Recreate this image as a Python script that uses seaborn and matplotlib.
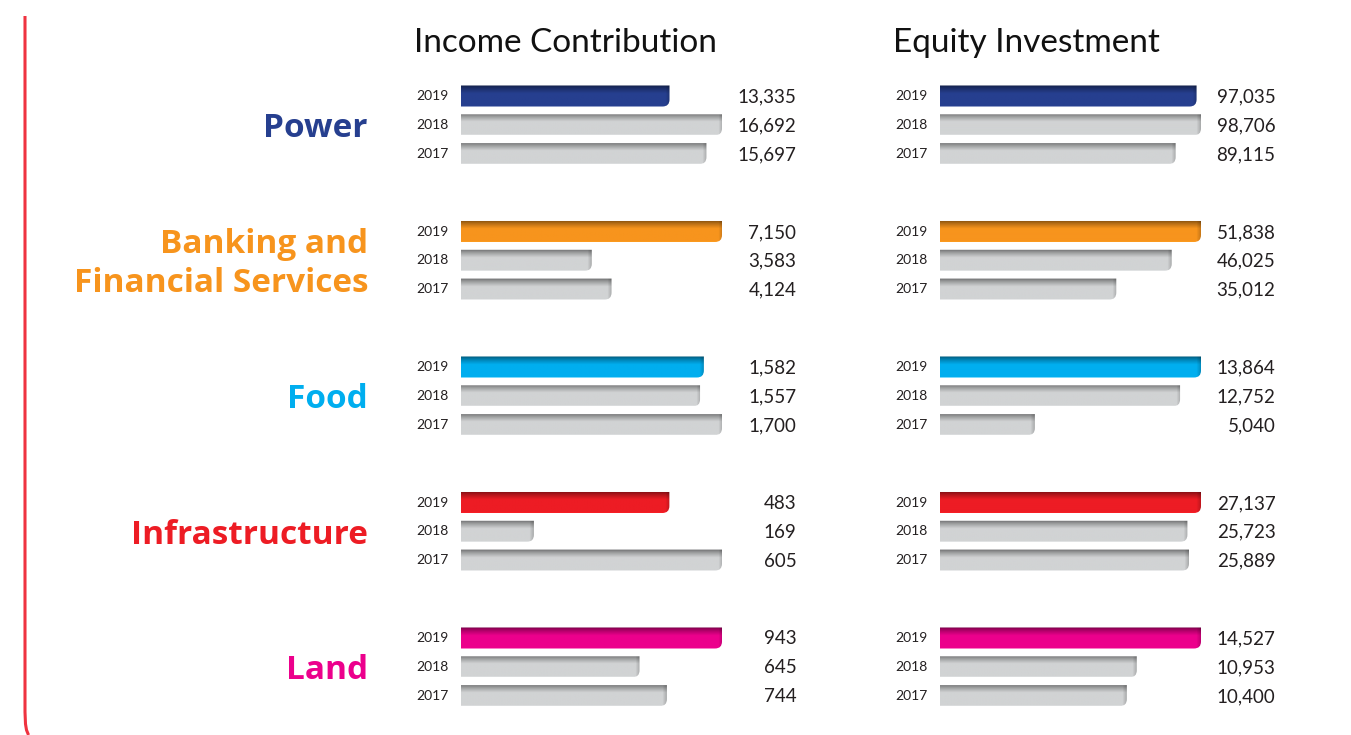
import numpy as np
import pandas as pd
import matplotlib
matplotlib.use("Agg")
import matplotlib.pyplot as plt
import seaborn as sns
from matplotlib.path import Path
from matplotlib.patches import PathPatch
from matplotlib.lines import Line2D

# ---- data ----
sectors = ["Power", "Banking and\nFinancial Services", "Food", "Infrastructure", "Land"]
sector_colors = ["#263f8f", "#f7941d", "#00aeef", "#ed1c24", "#ec008c"]
years = ["2019", "2018", "2017"]
income = [[13335, 16692, 15697],
          [7150, 3583, 4124],
          [1582, 1557, 1700],
          [483, 169, 605],
          [943, 645, 744]]
equity = [[97035, 98706, 89115],
          [51838, 46025, 35012],
          [13864, 12752, 5040],
          [27137, 25723, 25889],
          [14527, 10953, 10400]]
panel_titles = ["Income Contribution", "Equity Investment"]
prior_color = "#d1d3d4"

# ---- layout (pixels) ----
W, H = 1351, 735
Y0, ROW, GROUP = 96, 28.8, 135.5
BAR_PX = 261
panel_left = [461, 940]
title_left = [414, 893]

sns.set_theme(style="white")
plt.rcParams["font.family"] = ["Lato", "DejaVu Sans"]

fig = plt.figure(figsize=(W / 100, H / 100), dpi=100)


def make_frame(values):
    rows = []
    for g, sec in enumerate(sectors):
        top = max(values[g])
        for j, yr in enumerate(years):
            rows.append({
                "sector": sec,
                "year": yr,
                "value": values[g][j],
                "frac": values[g][j] / top,
                "pos": Y0 + g * GROUP + j * ROW,
                "shade": sec if yr == "2019" else "prior",
            })
    return pd.DataFrame(rows)


palette = dict(zip(sectors, sector_colors))
palette["prior"] = prior_color


def shade_bar(ax, p):
    x0, y, w, h = p.get_x(), p.get_y(), p.get_width(), p.get_height()
    fc = np.array(p.get_facecolor()[:3])
    p.set_visible(False)
    x1 = x0 + w
    ytop, ybot = y, y + h
    rx, ry = 7 / BAR_PX, 7
    verts = [(x0, ytop), (x1, ytop), (x1, ybot - ry), (x1, ybot),
             (x1 - rx, ybot), (x0, ybot), (x0, ytop)]
    codes = [Path.MOVETO, Path.LINETO, Path.LINETO, Path.CURVE3,
             Path.CURVE3, Path.LINETO, Path.CLOSEPOLY]
    clip = PathPatch(Path(verts, codes), fc="none", ec="none")
    ax.add_patch(clip)
    nr = 40
    nc = max(int(w * BAR_PX), 2)
    t = np.linspace(0, 1, nr)[:, None]
    d = (nc - 1 - np.arange(nc))[None, :]  # px from right edge
    f = 0.5 + 0.5 * np.clip(t / 0.38, 0, 1) ** 0.8
    f = f * (1 - 0.18 * np.clip(1 - d / 4.0, 0, 1))
    img = np.clip(fc[None, None, :] * f[..., None], 0, 1)
    img[-1:, :, :] = np.clip(fc * 1.08, 0, 1)
    im = ax.imshow(img, extent=(x0, x1, ybot, ytop), origin="upper",
                   aspect="auto", interpolation="bilinear", zorder=2)
    im.set_clip_path(clip)


for k, values in enumerate([income, equity]):
    df = make_frame(values)
    ax = fig.add_axes([panel_left[k] / W, 0, BAR_PX / W, 1])
    sns.barplot(data=df, x="frac", y="pos", hue="shade", palette=palette,
                orient="y", native_scale=True, dodge=False, width=0.73,
                saturation=1, legend=False, ax=ax)
    for p in list(ax.patches):
        shade_bar(ax, p)
    for _, r in df.iterrows():
        ax.text(-0.046, r["pos"], r["year"], ha="right", va="center",
                fontsize=10, color="#231f20")
        ax.text(1.285, r["pos"] + 1, f"{r['value']:,}", ha="right", va="center",
                fontsize=13.5, color="#231f20")
    ax.set_xlim(0, 1)
    ax.set_ylim(H, 0)
    ax.axis("off")
    fig.text(title_left[k] / W, 1 - 43 / H, panel_titles[k], ha="left",
             va="center", fontsize=24, color="#111111")

for g, sec in enumerate(sectors):
    yc = Y0 + g * GROUP + ROW + 4
    fig.text(368 / W, 1 - yc / H, sec, ha="right", va="center",
             fontsize=24, fontweight="bold", color=sector_colors[g],
             family=["Open Sans", "DejaVu Sans"], linespacing=1.25)

xs = np.array([25, 25, 25.5, 26.5, 28.5]) / W
ys = 1 - np.array([16, 712, 724, 730, 735]) / H
fig.add_artist(Line2D(xs, ys, transform=fig.transFigure, color="#ef3340",
                      lw=2.2, solid_capstyle="butt"))

fig.savefig("out.png", dpi=100, facecolor="white")
